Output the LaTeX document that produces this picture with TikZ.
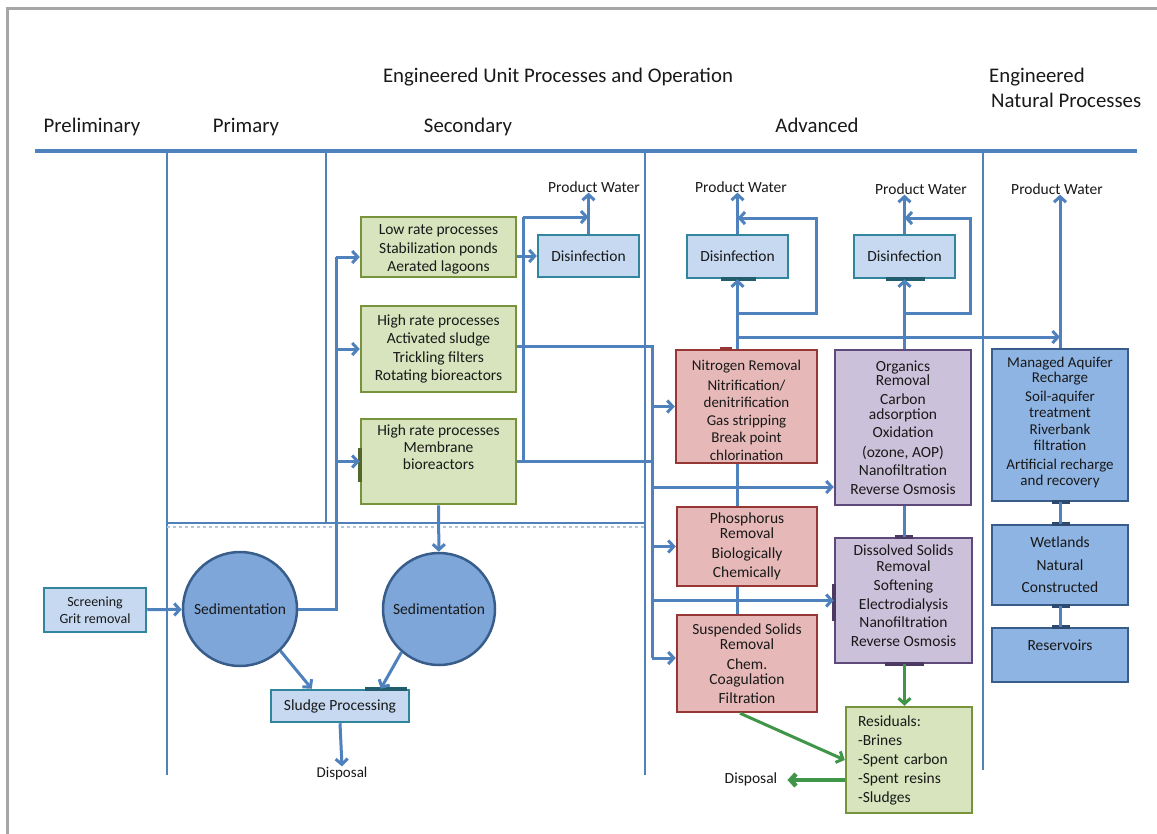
\documentclass[tikz,border=0pt]{standalone}
\usepackage{fontspec}
\setmainfont{Carlito}
\usetikzlibrary{arrows.meta,calc}

\definecolor{flowblue}{RGB}{79,129,189}
\definecolor{framegray}{RGB}{166,166,166}
\definecolor{greenfill}{RGB}{215,228,189}
\definecolor{greenedge}{RGB}{119,147,60}
\definecolor{disfill}{RGB}{198,217,241}
\definecolor{disedge}{RGB}{49,133,156}
\definecolor{circfill}{RGB}{126,166,216}
\definecolor{circedge}{RGB}{56,93,138}
\definecolor{pinkfill}{RGB}{230,185,184}
\definecolor{pinkedge}{RGB}{149,55,53}
\definecolor{lavfill}{RGB}{204,193,218}
\definecolor{lavedge}{RGB}{95,73,122}
\definecolor{natfill}{RGB}{142,180,227}
\definecolor{natedge}{RGB}{56,93,138}
\definecolor{resgreen}{RGB}{64,150,72}
\definecolor{inktext}{RGB}{25,25,25}

\newcommand\txtbody{\fontsize{15.5}{18.5}\selectfont}
\newcommand\txtsmall{\fontsize{14}{17}\selectfont}
\newcommand\txthead{\fontsize{20.8}{25}\selectfont}

\tikzset{
  every node/.style={inner sep=0pt, text=inktext},
  unitbox/.style={draw, rectangle, line width=2.5pt, align=center, font=\txtbody},
  secbox/.style={unitbox, fill=greenfill, draw=greenedge},
  disbox/.style={unitbox, fill=disfill, draw=disedge},
  nutbox/.style={unitbox, fill=pinkfill, draw=pinkedge},
  orgbox/.style={unitbox, fill=lavfill, draw=lavedge},
  natbox/.style={unitbox, fill=natfill, draw=natedge},
  boxtext/.style={align=center, font=\txtbody},
  settler/.style={circle, draw=circedge, fill=circfill, line width=2.5pt, minimum size=114pt, font=\txtbody},
  tag/.style={font=\txtbody},
  heading/.style={font=\txthead, anchor=base},
  flow/.style={draw=flowblue, line width=3pt},
  flowarrow/.style={flow, -{Straight Barb[length=5.5pt,width=12pt]}},
  resflow/.style={draw=resgreen, line width=3pt, -{Straight Barb[length=5.5pt,width=12pt]}},
  sepline/.style={draw=flowblue, line width=2.5pt},
  gluemark/.style={line width=4pt},
}

\begin{document}
\begin{tikzpicture}[x=1pt, y=-1pt]
\useasboundingbox (0,0) rectangle (1157,833);
\fill[white] (0,0) rectangle (1157,833);
\draw[framegray, line width=3pt] (7.5,834) -- (7.5,8) -- (1158,8);

% column headings
\node[heading] (hEng) at (558,82) {Engineered Unit Processes and Operation};
\node[heading, anchor=base west] (hNatA) at (989,82) {Engineered};
\node[heading, anchor=base west] (hNatB) at (991,107) {Natural Processes};
\node[heading] (hPre) at (92,132) {Preliminary};
\node[heading] (hPri) at (246,132) {Primary};
\node[heading] (hSec) at (468,132) {Secondary};
\node[heading] (hAdv) at (817,132) {Advanced};

% heading rule and column separators
\draw[flowblue, line width=4pt] (35,151) -- (1137,151);
\draw[sepline] (167,153) -- (167,775);
\draw[sepline] (326,153) -- (326,523);
\draw[sepline] (645,153) -- (645,775);
\draw[sepline] (983,153) -- (983,770);
\draw[sepline] (167,523) -- (645,523);
\draw[flowblue!45, line width=1.2pt, dashed] (167,527) -- (645,527);

% preliminary and primary treatment
\node[disbox, font=\txtsmall, minimum width=102pt, minimum height=44pt] (scr) at (95,610) {Screening\\Grit removal};
\node[settler] (sed1) at (240,609) {Sedimentation};
\node[settler, minimum size=112pt] (sed2) at (439,609) {Sedimentation};
\node[disbox, minimum width=138pt, minimum height=32pt] (slp) at (340,706) {Sludge Processing};
\node[tag, font=\fontsize{15}{18}\selectfont] (disp1) at (342,773) {Disposal};

% secondary treatment
\node[secbox, minimum width=155pt, minimum height=60pt] (lr) at (438.5,247) {};
\node[boxtext] (lrT) at ($(lr)+(0,2.5)$) {Low rate processes\\Stabilization ponds\\Aerated lagoons};
\node[secbox, minimum width=155pt, minimum height=86pt] (hr) at (438.5,349) {High rate processes\\Activated sludge\\Trickling filters\\Rotating bioreactors};
\node[secbox, minimum width=155pt, minimum height=85pt] (mbr) at (438.5,461.5) {};
\node[boxtext, font=\fontsize{15.5}{17}\selectfont, anchor=north] (mbrT) at ($(mbr.north)+(0,7)$) {High rate processes\\Membrane\\bioreactors};
\node[disbox, minimum width=101pt, minimum height=42pt] (dis1) at (588.5,256) {Disinfection};
\node[tag] (pw1) at (594,187) {Product Water};

% advanced treatment
\node[disbox, minimum width=101pt, minimum height=43pt] (disA) at (737.5,256.5) {Disinfection};
\node[disbox, minimum width=101pt, minimum height=43pt] (disB) at (904.5,256.5) {Disinfection};
\node[tag] (pwA) at (741,187) {Product Water};
\node[tag] (pwB) at (921,189) {Product Water};
\node[nutbox, minimum width=141pt, minimum height=113pt] (nit) at (746.5,406.5) {};
\node[boxtext, font=\fontsize{15}{17.5}\selectfont] (nitT) at ($(nit)+(0,4)$)
  {Nitrogen Removal\\[2pt]Nitrification/\\denitrification\\Gas stripping\\Break point\\chlorination};
\node[orgbox, minimum width=136pt, minimum height=155pt, font=\fontsize{15.5}{18.5}\selectfont] (org) at (903,427.5)
  {Organics\\[-4.5pt]Removal\\Carbon\\[-3.5pt]adsorption\\Oxidation\\[1pt](ozone, AOP)\\Nanofiltration\\Reverse Osmosis};
\node[nutbox, minimum width=140pt, minimum height=79pt] (pho) at (747,546.5)
  {Phosphorus\\[-4pt]Removal\\[2pt]Biologically\\Chemically};
\node[nutbox, minimum width=140pt, minimum height=97pt] (sus) at (747,663.5)
  {Suspended Solids\\[-3pt]Removal\\[1pt]Chem.\\[-3pt]Coagulation\\Filtration};
\node[orgbox, minimum width=137pt, minimum height=125pt] (dss) at (903.5,600.5) {};
\node[boxtext] (dssT) at ($(dss)+(0,-5)$)
  {Dissolved Solids\\[-3pt]Removal\\[1pt]Softening\\Electrodialysis\\Nanofiltration\\Reverse Osmosis};
\node[secbox, minimum width=126pt, minimum height=106pt, text width=102pt, align=left, font=\fontsize{15.5}{19}\selectfont] (res) at (909,760)
  {Residuals:\\-Brines\\-Spent carbon\\-Spent resins\\-Sludges};
\node[tag] (disp2) at (751,779) {Disposal};

% engineered natural processes
\node[natbox, minimum width=136pt, minimum height=152pt] (mar) at (1060,425) {};
\node[boxtext, font=\fontsize{15}{18.5}\selectfont] (marT) at ($(mar)+(0,-2.5)$)
  {Managed Aquifer\\[-4pt]Recharge\\[1pt]Soil-aquifer\\[-3pt]treatment\\[-1pt]Riverbank\\[-3pt]filtration\\[1pt]Artificial recharge\\[-3pt]and recovery};
\node[natbox, minimum width=136pt, minimum height=80pt] (wet) at (1060,565) {Wetlands\\[4pt]Natural\\[4pt]Constructed};
\node[natbox, minimum width=136pt, minimum height=54pt] (rsv) at (1060,655) {};
\node[tag, anchor=base] (rsvT) at ($(rsv.north)+(0,24)$) {Reservoirs};
\node[tag] (pwC) at (1057,189) {Product Water};

% connection marks on box edges
\draw[gluemark, draw=disedge!70!black] ($(disA.south)+(-17,0)$) -- ($(disA.south)+(18,0)$);
\draw[gluemark, draw=disedge!70!black] ($(disB.south)+(-19,0)$) -- ($(disB.south)+(20,0)$);
\draw[gluemark, draw=lavedge!80!black] ($(dss.west)+(0,-17)$) -- ($(dss.west)+(0,20)$);
\draw[gluemark, draw=lavedge!80!black] ($(dss.south)+(-19,0)$) -- ($(dss.south)+(20,0)$);
\draw[gluemark, draw=lavedge!80!black] ($(dss.north)+(-9,0)$) -- ($(dss.north)+(9,0)$);
\draw[gluemark, draw=greenedge!70!black] ($(mbr.west)+(0,-14)$) -- ($(mbr.west)+(0,20)$);
\draw[gluemark, draw=disedge!70!black] ($(slp.north east)+(-45,0)$) -- ($(slp.north east)+(-3,0)$);
\draw[gluemark, draw=pinkedge] ($(nit.north)+(-27,0)$) -- ($(nit.north)+(-15,0)$);
\draw[gluemark, draw=natedge!80!black] ($(mar.south)+(-8,0)$) -- ($(mar.south)+(10,0)$);
\draw[gluemark, draw=natedge!80!black] ($(wet.north)+(-8,0)$) -- ($(wet.north)+(10,0)$);
\draw[gluemark, draw=natedge!80!black] ($(wet.south)+(-8,0)$) -- ($(wet.south)+(10,0)$);
\draw[gluemark, draw=natedge!80!black] ($(rsv.north)+(-8,0)$) -- ($(rsv.north)+(10,0)$);

% preliminary -> primary -> secondary
\draw[flowarrow] (scr) -- (sed1);
\coordinate (busP) at (336,257);
\draw[flow] (sed1.east) -| (busP);
\draw[flowarrow] (busP) -- (busP -| lr.west);
\draw[flowarrow] (busP |- hr.west) -- (hr.west);
\draw[flowarrow] (busP |- mbr.west) -- (mbr.west);
\draw[flowarrow] (mbr) -- (sed2);
\draw[flowarrow] (sed1.-46) -- ($(slp.north west)+(42,0)$);
\draw[flowarrow] (sed2.-131) -- ($(slp.north west)+(111,0)$);
\draw[flowarrow] (slp.south) -- (disp1.north);

% secondary effluent
\draw[flowarrow] (dis1.west -| lr.east) -- (dis1.west);
\draw[flowarrow] (dis1.north) -- (dis1.north |- pw1.south);
\coordinate (busS) at (523,217);
\draw[flow] (mbr.east) -| (busS);
\draw[flowarrow] (busS) -- (busS -| dis1.north);

% distribution to advanced treatment
\coordinate (busA) at (652,346);
\coordinate (busAend) at (652,658);
\coordinate (rowO) at (0,487);
\draw[flow] (hr.east |- busA) -- (busA) -- (busAend);
\draw[flow] (mbr.east) -- (mbr.east -| busA);
\draw[flowarrow] (busA |- nit.west) -- (nit.west);
\draw[flowarrow] (busA |- pho.west) -- (pho.west);
\draw[flowarrow] (busAend) -- (busAend -| sus.west);
\draw[flowarrow] (busA |- rowO) -- (rowO -| org.west);
\draw[flowarrow] (busA |- dss.west) -- (dss.west);

% nutrient removal train
\draw[flow] (nit.south -| disA) -- (pho.north -| disA);
\draw[flow] (pho.south -| disA) -- (sus.north -| disA);
\draw[flowarrow] (disA.south |- nit.north) -- (disA.south);
\draw[flowarrow] (disA.north) -- (disA.north |- pwA.south);
\coordinate (loopA1) at (737.5,313);
\coordinate (loopA2) at (816,218);
\draw[flowarrow] (loopA1) -| (loopA2) -- (loopA2 -| disA.north);
\coordinate (rchg) at (737.5,337);
\draw[flowarrow] (rchg) -- (rchg -| mar.north);

% organics and dissolved solids train
\draw[flow] (org.south -| disB) -- (dss.north -| disB);
\draw[flowarrow] (disB.south |- org.north) -- (disB.south);
\draw[flowarrow] (disB.north) -- (disB.north |- pwB.south);
\coordinate (loopB1) at (904.5,313);
\coordinate (loopB2) at (970,218);
\draw[flowarrow] (loopB1) -| (loopB2) -- (loopB2 -| disB.north);

% residuals
\draw[resflow] (dss.south -| disB) -- (res.north -| disB);
\draw[resflow] ($(sus.south)+(-7,0)$) -- (res.west);
\coordinate (resout) at ($(res.west)+(0,20)$);
\draw[resflow, line width=4.5pt, shorten >=10pt] (resout) -- (resout -| disp2.east);

% natural systems
\draw[flowarrow] (mar.north) -- (mar.north |- pwC.south);
\draw[flow] (mar) -- (wet);
\draw[flow] (wet) -- (rsv);
\end{tikzpicture}
\end{document}
